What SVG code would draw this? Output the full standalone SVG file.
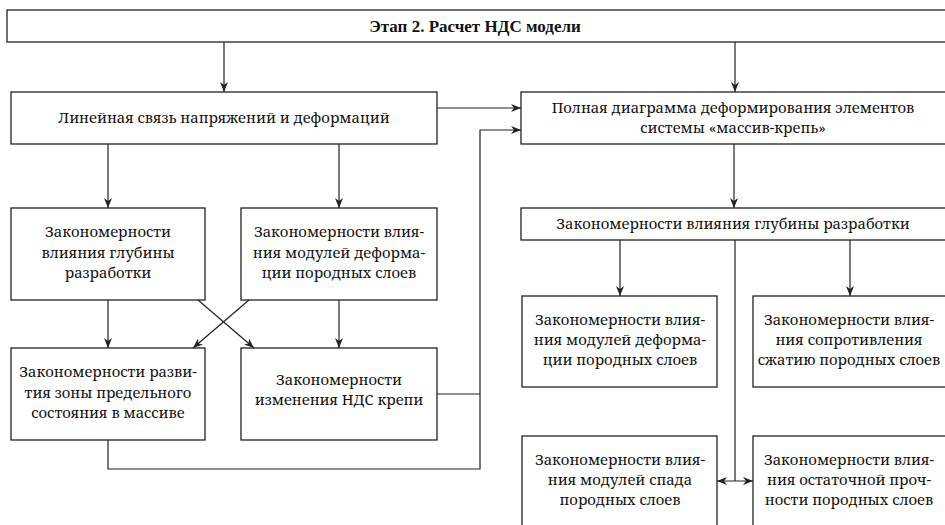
<svg xmlns="http://www.w3.org/2000/svg" width="945" height="525" viewBox="0 0 945 525">
<style>
.box{fill:#fff;stroke:#222;stroke-width:1.3}
.t{font-family:"Noto Serif","DejaVu Serif",serif;font-size:14.8px;fill:#111;text-anchor:middle}
.tb{font-family:"Liberation Serif","Noto Serif",serif;font-size:17px;font-weight:bold;fill:#111;text-anchor:middle}
.c{fill:none;stroke:#222;stroke-width:1.2}
</style>
<defs>
<marker id="ah" viewBox="0 0 10 8" refX="10" refY="4" markerWidth="10" markerHeight="8" markerUnits="userSpaceOnUse" orient="auto-start-reverse">
<path d="M0,0 L10,4 L0,8 L3,4 z" fill="#222"/>
</marker>
</defs>
<rect width="945" height="525" fill="#fff"/>
<g id="top"><rect class="box" x="7" y="10" width="945" height="32"/><text class="tb" x="475" y="32">Этап 2. Расчет НДС модели</text></g>
<g id="linear"><rect class="box" x="11" y="92" width="426" height="52"/><text class="t" x="224" y="123">Линейная связь напряжений и деформаций</text></g>
<g id="full"><rect class="box" x="521" y="92" width="430" height="52"/><text class="t" x="733" y="113">Полная диаграмма деформирования элементов</text><text class="t" x="733" y="133">системы «массив-крепь»</text></g>
<g id="depthR"><rect class="box" x="521" y="208" width="430" height="32"/><text class="t" x="733" y="229">Закономерности влияния глубины разработки</text></g>
<g id="depthL"><rect class="box" x="11" y="208" width="194" height="92"/><text class="t" x="108" y="237">Закономерности</text><text class="t" x="108" y="258">влияния глубины</text><text class="t" x="108" y="278">разработки</text></g>
<g id="modL"><rect class="box" x="241" y="208" width="196" height="92"/><text class="t" x="339" y="237">Закономерности влия-</text><text class="t" x="339" y="258">ния модулей деформа-</text><text class="t" x="339" y="278">ции породных слоев</text></g>
<g id="zone"><rect class="box" x="11" y="348" width="194" height="92"/><text class="t" x="108" y="377">Закономерности разви-</text><text class="t" x="108" y="398">тия зоны предельного</text><text class="t" x="108" y="418">состояния в массиве</text></g>
<g id="nds"><rect class="box" x="241" y="348" width="196" height="92"/><text class="t" x="339" y="385">Закономерности</text><text class="t" x="339" y="405">изменения НДС крепи</text></g>
<g id="modR"><rect class="box" x="522" y="296" width="195" height="91"/><text class="t" x="620" y="325">Закономерности влия-</text><text class="t" x="620" y="345">ния модулей деформа-</text><text class="t" x="620" y="365">ции породных слоев</text></g>
<g id="compR"><rect class="box" x="753" y="296" width="200" height="91"/><text class="t" x="849" y="325">Закономерности влия-</text><text class="t" x="849" y="345">ния сопротивления</text><text class="t" x="849" y="365">сжатию породных слоев</text></g>
<g id="dropR"><rect class="box" x="522" y="436" width="195" height="100"/><text class="t" x="620" y="465">Закономерности влия-</text><text class="t" x="620" y="485">ния модулей спада</text><text class="t" x="620" y="505">породных слоев</text></g>
<g id="resR"><rect class="box" x="753" y="436" width="200" height="100"/><text class="t" x="849" y="465">Закономерности влия-</text><text class="t" x="849" y="485">ния остаточной проч-</text><text class="t" x="849" y="505">ности породных слоев</text></g>
<g id="connectors">
<line class="c" x1="224" y1="42" x2="224" y2="92" marker-end="url(#ah)"/>
<line class="c" x1="735" y1="42" x2="735" y2="92" marker-end="url(#ah)"/>
<line class="c" x1="437" y1="108" x2="521" y2="108" marker-end="url(#ah)"/>
<polyline class="c" points="108,440 108,469 480,469 480,130 521,130" marker-end="url(#ah)"/>
<line class="c" x1="437" y1="394" x2="480" y2="394"/>
<line class="c" x1="108" y1="144" x2="108" y2="208" marker-end="url(#ah)"/>
<line class="c" x1="339" y1="144" x2="339" y2="208" marker-end="url(#ah)"/>
<line class="c" x1="108" y1="300" x2="108" y2="348" marker-end="url(#ah)"/>
<line class="c" x1="339" y1="300" x2="339" y2="348" marker-end="url(#ah)"/>
<line class="c" x1="198" y1="300" x2="254" y2="348" marker-end="url(#ah)"/>
<line class="c" x1="249" y1="300" x2="193" y2="348" marker-end="url(#ah)"/>
<line class="c" x1="734" y1="144" x2="734" y2="208" marker-end="url(#ah)"/>
<line class="c" x1="620" y1="240" x2="620" y2="296" marker-end="url(#ah)"/>
<line class="c" x1="850" y1="240" x2="850" y2="296" marker-end="url(#ah)"/>
<line class="c" x1="735" y1="240" x2="735" y2="481"/>
<line class="c" x1="717" y1="481" x2="753" y2="481" marker-start="url(#ah)" marker-end="url(#ah)"/>
</g>
</svg>
